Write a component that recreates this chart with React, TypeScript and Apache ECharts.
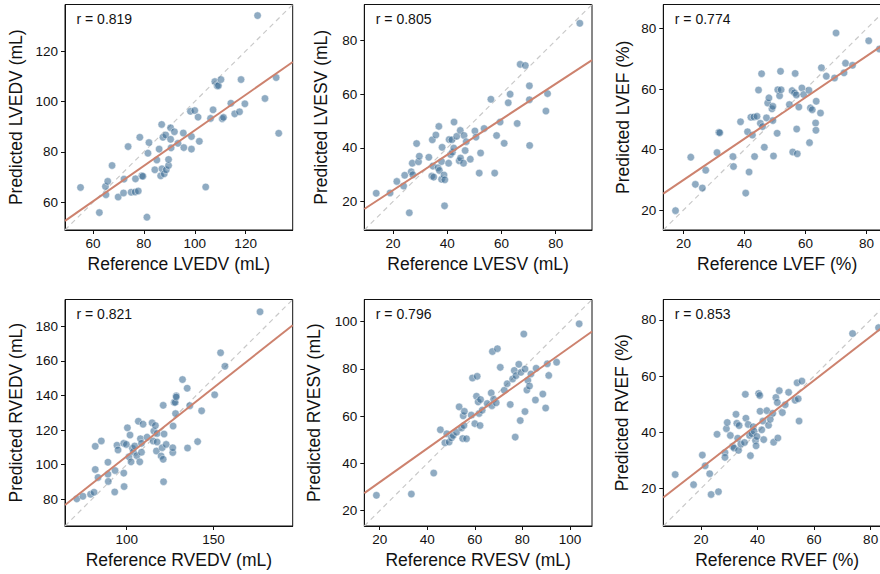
import React, { useEffect, useRef } from "react";
import * as echarts from "echarts";

// ---------- DATA ----------
const lvedvRef = [55.1,62.5,64.9,65.1,65.8,67.5,69.9,72.0,72.2,73.8,75.0,76.6,77.8,76.7,78.4,79.2,79.6,81.2,81.6,82.0,84.3,85.1,86.0,87.0,86.6,87.1,87.5,88.0,88.6,88.8,89.7,89.7,90.5,90.5,90.7,92.0,93.4,95.5,95.7,98.3,98.7,98.7,100.0,101.3,101.8,104.3,106.2,107.2,107.9,108.8,109.3,110.3,110.8,111.3,114.2,115.7,117.6,118.2,119.7,124.7,127.6,132.0,133.0];
const lvedvPred = [65.9,55.9,66.3,63.0,68.3,74.6,62.1,63.7,69.2,82.1,64.0,64.1,64.5,69.3,85.8,70.5,70.3,54.1,79.5,83.7,72.9,76.8,81.1,90.9,70.5,73.3,85.8,71.3,86.7,72.9,74.6,77.0,89.6,85.0,81.6,88.0,83.4,87.5,81.7,96.1,86.1,81.1,96.4,93.8,84.2,66.1,93.3,96.7,107.9,106.3,106.3,108.7,93.2,93.7,99.3,95.1,95.9,108.7,99.1,134.1,101.2,109.5,87.4];

const lvesvRef = [13.8,18.9,21.4,23.9,24.3,26.0,26.7,27.1,27.3,28.7,29.4,29.7,33.2,34.3,34.5,34.7,35.0,35.8,36.6,36.9,37.1,37.9,38.1,37.9,38.8,39.1,39.0,40.5,40.7,41.2,41.7,41.9,42.4,42.5,43.5,44.4,44.8,44.9,46.0,46.2,46.6,47.0,48.5,50.2,50.6,52.3,51.8,53.6,56.1,57.5,58.2,59.5,61.0,62.5,63.2,65.8,66.9,68.8,70.3,70.3,70.4,76.4,77.0,88.9];
const lvesvPred = [23.1,23.2,27.5,25.8,29.8,15.8,31.1,34.3,30.0,41.6,34.8,36.9,36.5,29.5,43.0,33.2,29.1,44.8,32.6,48.0,31.6,28.3,40.2,34.9,29.9,28.1,18.4,34.3,43.1,37.5,43.0,38.4,39.9,49.6,44.3,35.2,46.5,36.2,34.3,44.6,39.0,42.3,35.8,46.3,44.0,38.1,30.6,47.2,58.1,30.6,44.6,49.6,41.7,56.8,60.0,49.1,71.1,70.7,63.1,57.9,40.9,53.7,60.2,86.4];

const lvefRef = [17.4,22.4,23.9,26.2,27.3,31.0,31.6,31.9,36.2,36.4,38.7,40.4,41.0,41.5,42.1,42.6,43.1,43.3,44.1,44.6,45.2,45.6,45.9,46.5,47.2,47.6,48.0,49.0,49.3,49.3,49.5,50.7,50.9,51.5,51.8,52.0,54.7,55.6,55.8,56.4,56.6,57.0,57.1,57.3,57.8,58.8,59.4,61.1,61.3,61.6,62.2,63.5,63.3,63.4,64.9,65.2,66.8,69.5,70.0,72.6,73.1,75.4,80.7,84.2];
const lvefPred = [19.8,37.5,28.5,27.3,33.2,39.0,45.7,45.6,37.7,34.4,49.2,25.6,45.9,32.6,50.7,44.8,50.8,37.7,51.0,59.7,48.7,65.1,47.6,40.8,50.5,55.4,57.1,53.5,54.3,49.6,37.9,45.4,59.8,57.8,65.9,59.8,54.9,59.5,39.2,58.8,65.2,58.1,46.8,38.6,54.1,60.4,58.2,59.6,42.3,53.8,53.2,56.0,48.8,46.4,52.1,67.1,64.3,63.7,78.6,65.4,68.6,67.9,76.0,73.3];

const rvedvRef = [71.3,74.8,79.2,81.2,81.9,81.9,83.5,85.4,89.2,89.2,89.4,93.3,93.1,94.4,95.0,98.3,98.3,98.5,99.8,100.4,101.3,101.9,102.5,103.3,103.8,104.6,105.8,106.7,107.5,107.9,108.5,108.5,109.4,111.7,114.6,115.2,115.6,116.5,117.1,117.5,117.5,119.8,120.4,121.0,121.0,121.2,121.5,122.7,126.5,126.5,126.7,127.3,127.9,128.1,128.5,128.5,132.1,134.8,135.0,136.3,140.8,143.1,150.6,154.0,156.5,176.7];
const rvedvPred = [80.2,81.7,82.9,84.0,97.2,110.6,92.6,113.7,101.4,94.5,90.3,96.6,84.2,111.2,108.5,112.3,95.1,87.3,111.7,121.3,104.5,117.1,101.6,109.4,107.5,110.8,105.2,125.1,101.6,115.0,107.2,112.3,123.4,115.9,124.2,113.7,119.4,122.6,107.9,113.1,118.0,105.0,109.8,134.3,103.1,90.1,117.7,111.7,107.0,109.8,122.3,136.0,136.0,129.5,139.8,139.1,149.2,144.2,109.6,134.1,113.3,131.1,140.4,164.7,156.9,188.4];

const rvesvRef = [18.6,33.3,42.7,45.5,47.4,48.2,49.2,50.2,50.9,52.3,53.4,54.4,54.9,55.1,55.4,55.6,56.5,58.5,59.0,60.0,60.7,61.0,61.4,61.8,62.2,62.4,63.1,65.2,66.9,67.2,67.4,67.9,69.0,69.5,70.7,72.4,73.6,74.9,75.9,76.6,77.0,77.3,78.5,79.1,79.4,80.6,81.1,81.1,81.9,82.3,83.0,83.6,85.5,85.8,88.6,89.8,90.5,91.1,94.4,103.9];
const rvesvPred = [26.5,27.0,35.9,54.2,48.7,52.5,49.0,50.8,51.8,53.2,63.9,55.0,50.5,60.1,56.0,62.0,50.4,60.4,76.1,56.8,68.4,76.8,66.0,61.1,56.0,67.0,62.5,65.3,69.8,64.4,87.3,67.1,65.6,88.5,80.6,70.9,73.7,64.9,75.7,79.3,51.1,77.1,81.9,58.1,78.5,94.7,79.9,61.9,71.0,75.1,72.7,77.8,66.8,80.2,69.3,63.4,82.1,77.2,82.8,99.0];

const rvefRef = [10.9,17.4,20.5,21.5,23.1,23.6,26.2,25.7,28.5,28.5,29.0,29.3,30.4,31.2,31.7,32.4,32.7,33.0,33.3,33.5,34.1,35.4,35.7,35.9,36.7,37.2,37.5,38.0,38.5,38.8,39.3,39.5,39.8,40.4,40.8,40.9,41.5,41.9,42.2,43.3,43.9,44.5,45.4,45.7,46.5,47.0,47.2,47.7,48.8,49.8,51.0,53.3,54.0,54.4,54.7,55.7,73.6,82.8];
const rvefPred = [25.0,21.4,31.9,28.1,25.3,17.9,18.9,39.3,32.8,31.1,41.3,43.5,38.9,35.0,34.4,46.4,43.2,37.9,33.6,42.4,35.8,36.4,53.5,45.0,42.8,38.9,31.7,39.5,42.0,40.4,37.1,35.2,38.5,53.8,53.1,47.5,40.9,44.0,37.4,47.7,42.5,44.6,46.8,36.5,52.4,50.6,38.0,54.8,47.0,49.8,54.2,51.4,57.6,51.9,44.0,58.2,75.1,77.2];

const rValues = ["0.819", "0.805", "0.774", "0.821", "0.796", "0.853"];
const xNames = ["Reference LVEDV (mL)", "Reference LVESV (mL)", "Reference LVEF (%)", "Reference RVEDV (mL)", "Reference RVESV (mL)", "Reference RVEF (%)"];
const yNames = ["Predicted LVEDV (mL)", "Predicted LVESV (mL)", "Predicted LVEF (%)", "Predicted RVEDV (mL)", "Predicted RVESV (mL)", "Predicted RVEF (%)"];
const axisLimits = [[49, 138.5], [9.4, 93.4], [13.4, 88.0], [64.5, 195.5], [13.5, 109.3], [6.7, 87.2]];
const xTicks = [[60, 80, 100, 120], [20, 40, 60, 80], [20, 40, 60, 80], [100, 150], [20, 40, 60, 80, 100], [20, 40, 60, 80]];
const yTicks = [[60, 80, 100, 120], [20, 40, 60, 80], [20, 40, 60, 80], [80, 100, 120, 140, 160, 180], [20, 40, 60, 80, 100], [20, 40, 60, 80]];

const refSets = [lvedvRef, lvesvRef, lvefRef, rvedvRef, rvesvRef, rvefRef];
const predSets = [lvedvPred, lvesvPred, lvefPred, rvedvPred, rvesvPred, rvefPred];

function fitLine(xs: number[], ys: number[]) {
  const n = xs.length;
  const mx = xs.reduce((a, b) => a + b, 0) / n;
  const my = ys.reduce((a, b) => a + b, 0) / n;
  let sxy = 0, sxx = 0;
  for (let i = 0; i < n; i++) {
    sxy += (xs[i] - mx) * (ys[i] - my);
    sxx += (xs[i] - mx) * (xs[i] - mx);
  }
  const b = sxy / sxx;
  return { a: my - b * mx, b };
}

const FONT = "'Liberation Sans', Arial, Helvetica, sans-serif";

export default function App() {
  const ref = useRef<HTMLDivElement>(null);
  useEffect(() => {
    if (!ref.current) return;
    const chart = echarts.init(ref.current, undefined, { renderer: "svg" });
    const colLeft = [65, 364.3, 663.3];
    const rowTop = [4.5, 299.5];
    const W = 227.7;
    const H = [225.5, 226.5];
    const yGap = [40, 34, 31, 40, 41, 32];

    const grids: any[] = [];
    const xAxes: any[] = [];
    const yAxes: any[] = [];
    const series: any[] = [];
    const graphics: any[] = [];

    for (let i = 0; i < 6; i++) {
      const r = Math.floor(i / 3);
      const c = i % 3;
      const [lo, hi] = axisLimits[i];
      grids.push({
        left: colLeft[c], top: rowTop[r], width: W, height: H[r],
        outerBoundsMode: "none", containLabel: false,
        show: true, borderColor: "#111", borderWidth: 1, backgroundColor: "transparent",
      });
      const common = {
        gridIndex: i, type: "value", min: lo, max: hi,
        nameLocation: "middle",
        nameTextStyle: { fontFamily: FONT, fontSize: 17.5, color: "#111" },
        axisLine: { show: true, onZero: false, lineStyle: { color: "#111", width: 1 } },
        splitLine: { show: false },
      };
      xAxes.push({
        ...common,
        name: xNames[i], nameGap: 25,
        nameTextStyle: { ...common.nameTextStyle, verticalAlign: "top" },
        axisTick: { show: true, length: 4, lineStyle: { color: "#111" }, customValues: xTicks[i] },
        axisLabel: { fontFamily: FONT, fontSize: 13.5, color: "#111", margin: 6, customValues: xTicks[i] },
      });
      yAxes.push({
        ...common,
        name: yNames[i], nameGap: yGap[i],
        axisTick: { show: true, length: 4, lineStyle: { color: "#111" }, customValues: yTicks[i] },
        axisLabel: { fontFamily: FONT, fontSize: 13.5, color: "#111", margin: 7, customValues: yTicks[i] },
      });
      const xs = refSets[i];
      const ys = predSets[i];
      const { a, b } = fitLine(xs, ys);
      series.push({
        type: "line", xAxisIndex: i, yAxisIndex: i, data: [[lo, lo], [hi, hi]],
        showSymbol: false, symbol: "none", silent: true, z: 1,
        lineStyle: { color: "#c9c9c9", width: 1.2, type: [5, 4] },
      });
      series.push({
        type: "scatter", xAxisIndex: i, yAxisIndex: i,
        data: xs.map((x, k) => [x, ys[k]]),
        symbolSize: 7.5, z: 2,
        itemStyle: { color: "rgba(56,106,147,0.7)", borderColor: "rgba(255,255,255,0.8)", borderWidth: 0.7 },
      });
      series.push({
        type: "line", xAxisIndex: i, yAxisIndex: i,
        data: [[lo, a + b * lo], [hi, a + b * hi]],
        showSymbol: false, symbol: "none", silent: true, z: 3,
        lineStyle: { color: "#cd826e", width: 2 },
      });
      graphics.push({
        type: "text", left: colLeft[c] + 11.5, top: rowTop[r] + 7.5,
        style: { text: "r = " + rValues[i], font: `14px ${FONT}`, fill: "#111" },
      });
    }

    chart.setOption({
      animation: false,
      backgroundColor: "#ffffff",
      grid: grids,
      xAxis: xAxes,
      yAxis: yAxes,
      series,
      graphic: graphics,
    });
    return () => chart.dispose();
  }, []);
  return <div ref={ref} style={{ position: "absolute", left: 0, top: 0, width: 880, height: 574 }} />;
}
